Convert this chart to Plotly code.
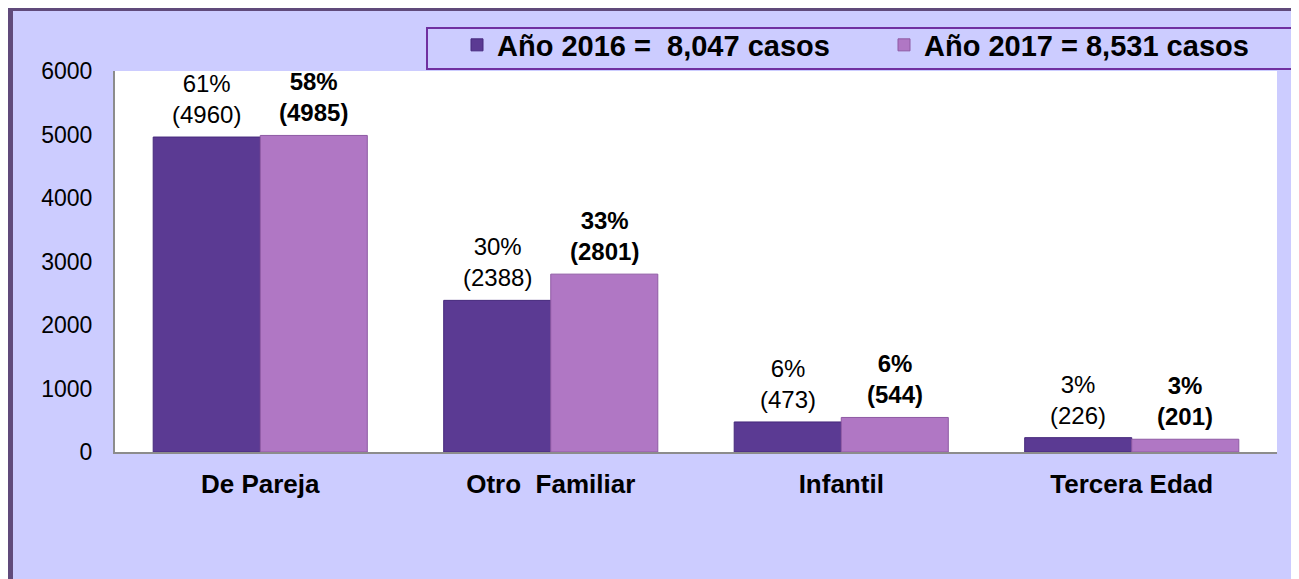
import plotly.graph_objects as go

categories = ["De Pareja", "Otro  Familiar", "Infantil", "Tercera Edad"]
values_2016 = [4960, 2388, 473, 226]
values_2017 = [4985, 2801, 544, 201]
pct_2016 = ["61%", "30%", "6%", "3%"]
pct_2017 = ["58%", "33%", "6%", "3%"]
name_2016 = "Año 2016 =  8,047 casos"
name_2017 = "Año 2017 = 8,531 casos"
y_ticks = [0, 1000, 2000, 3000, 4000, 5000, 6000]

# page has an 8px body margin; the figure runs past the right/bottom window edge
W, H = 1320, 590
L, T = 107, 63
pw, ph = 1162, 381
R, B = W - L - pw, H - T - ph
OFF = 8


def rx(p):
    """window x pixel -> paper coordinate"""
    return (p - OFF - L) / pw


def ry(q):
    """window y pixel -> paper coordinate"""
    return (T + ph - (q - OFF)) / ph


FONT = "Liberation Sans, Arial, sans-serif"
C16 = "#5B3A93"
C17 = "#B077C4"
LAV = "#CCCCFF"
FRAME = "#604A7B"
BARGAP = 0.263

fig = go.Figure()
fig.add_trace(go.Bar(
    x=categories, y=values_2016, name=name_2016,
    marker=dict(color=C16, line=dict(color="#46297C", width=1)),
))
fig.add_trace(go.Bar(
    x=categories, y=values_2017, name=name_2017,
    marker=dict(color=C17, line=dict(color="#8E5AA3", width=1)),
))

# bar value labels (percent + count) above each bar
half_bar = pw / len(categories) * (1 - BARGAP) / 4
annotations = []
for cat, p, v in zip(categories, pct_2016, values_2016):
    annotations.append(dict(
        x=cat, y=v, xref="x", yref="y", text=f"{p}<br>({v})", showarrow=False,
        xshift=-half_bar, yshift=7, yanchor="bottom",
        font=dict(family=FONT, size=24, color="black"),
    ))
for cat, p, v in zip(categories, pct_2017, values_2017):
    annotations.append(dict(
        x=cat, y=v, xref="x", yref="y", text=f"<b>{p}<br>({v})</b>", showarrow=False,
        xshift=half_bar, yshift=7, yanchor="bottom",
        font=dict(family=FONT, size=24, color="black"),
    ))

shapes = [
    # purple frame lines (left and top)
    dict(type="rect", xref="paper", yref="paper", x0=rx(8), x1=rx(13), y0=ry(620), y1=ry(8),
         fillcolor=FRAME, line=dict(width=0), layer="below"),
    dict(type="rect", xref="paper", yref="paper", x0=rx(8), x1=rx(1330), y0=ry(11), y1=ry(8),
         fillcolor=FRAME, line=dict(width=0), layer="below"),
    # legend box
    dict(type="rect", xref="paper", yref="paper", x0=rx(427), x1=rx(1294), y0=ry(69), y1=ry(28),
         fillcolor=LAV, line=dict(color="#7030A0", width=2), layer="above"),
]

fig.update_layout(
    width=W, height=H,
    margin=dict(l=L, r=R, t=T, b=B, pad=0),
    paper_bgcolor=LAV, plot_bgcolor="white",
    barmode="group", bargap=BARGAP, bargroupgap=0,
    font=dict(family=FONT, size=23, color="black"),
    shapes=shapes,
    annotations=annotations,
    showlegend=True,
    legend=dict(
        orientation="h", x=rx(457), xanchor="left", y=ry(45), yanchor="middle",
        bgcolor="rgba(0,0,0,0)", borderwidth=0,
        font=dict(family=FONT, size=29, color="black", weight="bold"),
        entrywidth=382, itemwidth=30, traceorder="normal",
    ),
    xaxis=dict(
        showline=True, linecolor="#8C8C8C", linewidth=2, mirror=False,
        tickfont=dict(family=FONT, size=26, color="black", weight="bold"),
        ticks="", ticklabelstandoff=8, showgrid=False,
    ),
    yaxis=dict(
        range=[0, 6000], tickvals=y_ticks, showgrid=False, zeroline=False,
        showline=True, linecolor="#8C8C8C", linewidth=2,
        tickfont=dict(family=FONT, size=23, color="black"),
        ticks="", ticklabelstandoff=16,
    ),
)

fig.write_html("out.html")
